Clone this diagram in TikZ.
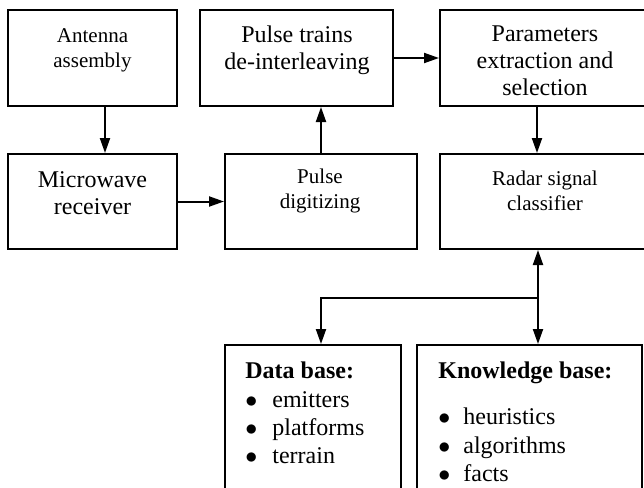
\documentclass[tikz,border=0pt]{standalone}
\usepackage{fontspec}
\setmainfont{Liberation Serif}
\usetikzlibrary{arrows.meta,positioning}

\tikzset{
  blk/.style 2 args={draw,line width=1pt,minimum width=#1,minimum height=#2,inner sep=0pt},
  bigtxt/.style={align=center,inner sep=0pt,font=\fontsize{12}{13.5}\selectfont},
  smalltxt/.style={align=center,inner sep=0pt,font=\fontsize{10.5}{12.5}\selectfont},
  itemtxt/.style={anchor=base west,inner sep=0pt,font=\fontsize{12}{14}\selectfont},
  arr/.style={-{Triangle[length=7.5pt,width=5pt]},line width=1pt}
}

\begin{document}
\begin{tikzpicture}[x=0.5pt,y=-0.5pt]
\useasboundingbox (0,0) rectangle (644,488);
\clip (0,0) rectangle (644,488);

% top row
\node[blk={84.5pt}{48pt}] (ant) at (92.5,58) {};
\node[blk={96.5pt}{48pt}] (trains) at (296.5,58) {};
\node[blk={105pt}{48pt}] (params) at (545,58) {};

% second row
\node[blk={84.5pt}{47.5pt}] (mic) at (92.5,201.5) {};
\node[blk={96pt}{47.5pt}] (dig) at (321,201.5) {};
\node[blk={105pt}{47.5pt}] (radar) at (545,201.5) {};

% bases
\node[blk={88pt}{87pt}] (db) at (313,432) {};
\node[blk={112.5pt}{87pt}] (kb) at (529.5,432) {};

% box texts
\node[smalltxt] (antT) at (92.5,50.5) {Antenna\\assembly};
\node[bigtxt] (micT) at (92.5,193.5) {Microwave\\receiver};
\node[bigtxt] (trainsT) at (297,50.5) {Pulse trains\\de-interleaving};
\node[smalltxt] (digT) at (320,191) {Pulse\\digitizing};
\node[bigtxt] (paramsT) at (545,61) {Parameters\\extraction and\\selection};
\node[smalltxt] (radarT) at (545,191) {Radar signal\\classifier};

\node[itemtxt] (dbH) at (245,378) {\textbf{Data base:}};
\node[itemtxt] (db1) at (245,407) {\makebox[13.5pt][l]{$\bullet$}emitters};
\node[itemtxt] (db2) at (245,435) {\makebox[13.5pt][l]{$\bullet$}platforms};
\node[itemtxt] (db3) at (245,463) {\makebox[13.5pt][l]{$\bullet$}terrain};

\node[itemtxt] (kbH) at (438,378) {\textbf{Knowledge base:}};
\node[itemtxt] (kb1) at (438,424) {\makebox[12.5pt][l]{$\bullet$}heuristics};
\node[itemtxt] (kb2) at (438,453) {\makebox[12.5pt][l]{$\bullet$}algorithms};
\node[itemtxt] (kb3) at (438,481) {\makebox[12.5pt][l]{$\bullet$}facts};

% connectors
\coordinate (antX) at (105,0);
\coordinate (parX) at (537,0);
\coordinate (dbX) at (321,0);
\coordinate (jn) at (538,298);

\draw[arr] (ant.south -| antX) -- (mic.north -| antX);
\draw[arr] (mic.east) -- (dig.west);
\draw[arr] (dig.north) -- (dig.north |- trains.south);
\draw[arr] (trains.east) -- (params.west);
\draw[arr] (params.south -| parX) -- (radar.north -| parX);

\draw[arr] (jn) -- (radar.south -| jn);
\draw[arr] (jn) -- (kb.north -| jn);
\draw[arr] (jn) -| (db.north -| dbX);

\end{tikzpicture}
\end{document}
